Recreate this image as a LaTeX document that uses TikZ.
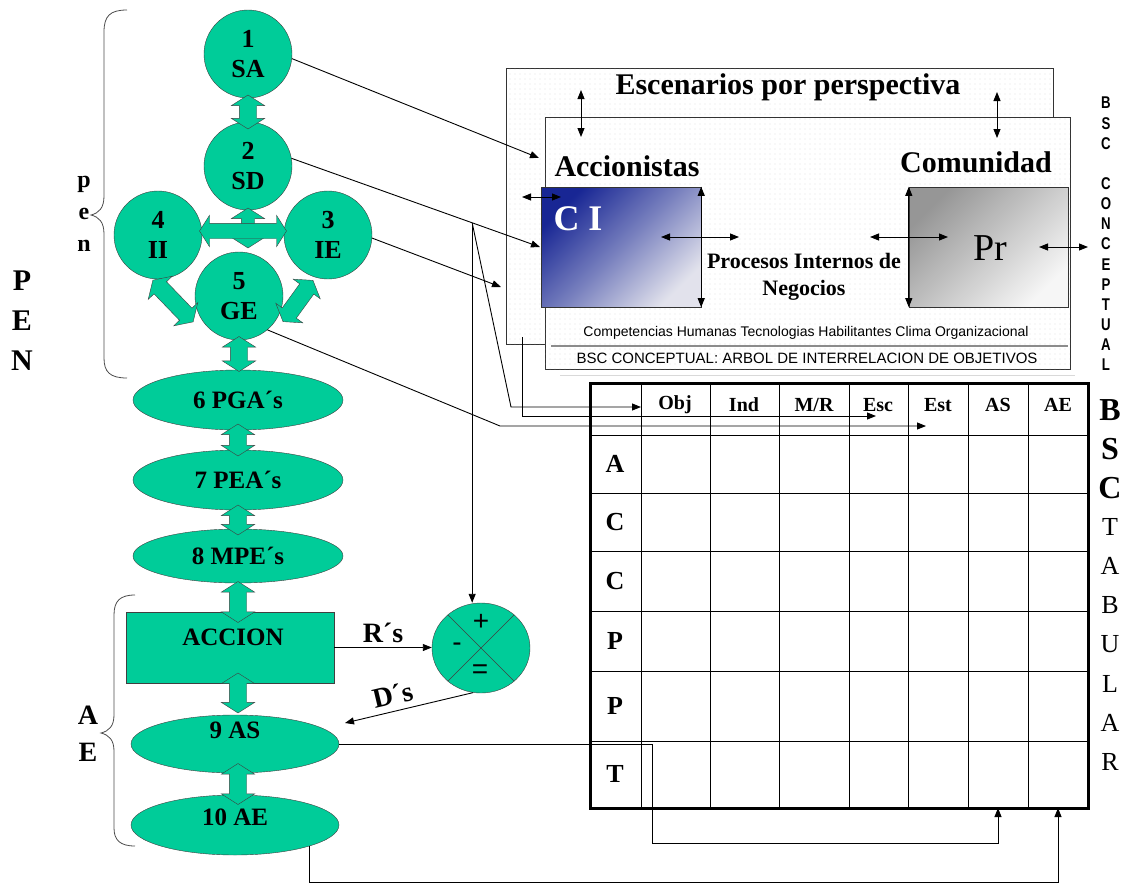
\documentclass[tikz,border=0pt]{standalone}
\usepackage{fontspec}
\setmainfont{Liberation Serif}
\setsansfont{Liberation Sans}
\usetikzlibrary{shapes.geometric,shapes.arrows,arrows.meta,patterns.meta,calc}

\definecolor{verde}{RGB}{0,204,153}
\definecolor{azulci}{RGB}{24,38,148}
\definecolor{medioci}{RGB}{120,128,190}
\definecolor{claroci}{RGB}{226,226,236}
\definecolor{grispr}{RGB}{150,150,150}
\definecolor{claropr}{RGB}{246,246,246}
\newcommand{\tam}[2]{\fontsize{#1}{#2}\selectfont}

\tikzset{
  circulo/.style={circle,draw=black!75,fill=verde,minimum size=88pt,inner sep=0pt,align=center,font=\tam{26}{30}\bfseries},
  ovalo/.style={ellipse,draw=black!75,fill=verde,minimum width=210pt,minimum height=60pt,inner sep=0pt,font=\tam{25}{30}\bfseries},
  bloque/.style={double arrow,draw=black!75,fill=verde,inner xsep=0pt,inner ysep=8.5pt,double arrow head extend=8pt,double arrow tip angle=115,minimum height=#1pt},
  caja/.style={draw=black!80,fill=white,postaction={pattern={Dots[radius=0.4pt,distance=5pt]},pattern color=black!30},inner sep=0pt},
  flecha/.style={line width=0.9pt,-{Triangle[length=9pt,width=7pt]}},
  doble/.style={line width=0.9pt,{Triangle[length=9pt,width=7pt]}-{Triangle[length=9pt,width=7pt]}},
  llave/.style={line width=0.8pt,black!70},
  rotulo/.style={inner sep=0pt,font=\tam{25}{30}\bfseries},
}

\begin{document}
\begin{tikzpicture}[x=1pt,y=-1pt]
\useasboundingbox (0,0) rectangle (1125,884);

%% BSC conceptual
\node[caja,minimum width=547pt,minimum height=276pt] (escen) at (779.5,206) {};
\draw[black!15,line width=1pt] (560,375) -- (1075,375);
\node[caja,minimum width=525pt,minimum height=252pt] (bscc) at (807.5,243) {};
\node[rotulo,font=\tam{30}{32}\bfseries] (tesc) at (788,87) {Escenarios por perspectiva};
\node[rotulo,font=\tam{30}{32}\bfseries] (tacc) at (627,166) {Accionistas};
\node[rotulo,font=\tam{30}{32}\bfseries] (tcom) at (976,162) {Comunidad};
\node[draw=black!80,top color=azulci,bottom color=claroci,middle color=medioci,shading angle=45,minimum width=160pt,minimum height=120pt] (ci) at (621,247) {};
\node[rotulo,font=\tam{36}{40}\bfseries,text=white] (tci) at (578,219) {C I};
\node[draw=black!80,top color=grispr,bottom color=claropr,shading angle=45,minimum width=159pt,minimum height=120pt] (pr) at (988.5,247) {};
\node[rotulo,font=\tam{38}{40}] (tpr) at (990,248) {Pr};
\node[rotulo,align=center,font=\tam{22}{27}\bfseries] (tproc) at (804,277) {Procesos Internos de\\Negocios};
\node[rotulo,font=\sffamily\tam{14}{16}] (tcomp) at (806,333) {Competencias Humanas Tecnologias Habilitantes Clima Organizacional};
\draw[black!45,line width=2pt] (551,346) -- (1068,346);
\node[rotulo,font=\sffamily\tam{15}{17}] (tbsc) at (807,358) {BSC CONCEPTUAL: ARBOL DE INTERRELACION DE OBJETIVOS};
%% flechas dobles internas
\draw[doble] (581,90) -- (581,137);
\draw[doble] (997,92) -- (997,138);
\draw[doble] (522,197) -- (561,197);
\draw[doble] (ci.north east) -- (ci.south east);
\draw[doble] (661,237) -- (739,237);
\draw[doble] (870,237) -- (948,237);
\draw[doble] (pr.north west) -- (pr.south west);
\draw[doble] (1039,247) -- (1088,247);
\foreach \l/\k in {B/0,S/1,C/2,C/4,O/5,N/6,C/7,E/8,P/9,T/10,U/11,A/12,L/13}
  \node[rotulo,font=\sffamily\bfseries\tam{17}{17}] (bsc\k) at (1106,103+20.15*\k) {\scalebox{0.78}[1]{\l}};

%% Tabla
\foreach \x in {641,710,779,849,908,968,1028}
  \draw[line width=1pt] (\x,383) -- (\x,808);
\foreach \y in {435,493,551,611,671,741}
  \draw[line width=1pt] (590,\y) -- (1088,\y);
\node[draw,line width=3pt,minimum width=498pt,minimum height=425pt,inner sep=0pt] (tabla) at (839,595.5) {};
\foreach \x/\t [count=\i] in {675/Obj,744/Ind,814/{M/R},878/Esc,938/Est,998/AS,1058/AE}
  \node[rotulo,font=\tam{20}{20}\bfseries] (col\i) at (\x,405) {\t};
\foreach \y/\t [count=\i] in {464/A,522/C,581/C,641/P,706/P,774/T}
  \node[rotulo,font=\tam{26}{28}\bfseries] (fila\i) at (615,\y) {\t};
\foreach \t [count=\i from 0] in {B,S,C}
  \node[rotulo,font=\tam{32}{32}\bfseries] (der\i) at (1110,410+39.1*\i) {\t};
\foreach \t [count=\i from 3] in {T,A,B,U,L,A,R}
  \node[rotulo,font=\tam{26}{26}] (der\i) at (1110,410+39.1*\i) {\t};

%% PEN
\node[circulo] (sa) at (248,54) {1\\SA};
\node[circulo] (sd) at (248,166) {2\\SD};
\node[circulo] (ii) at (158,235) {4\\II};
\node[circulo] (ie) at (328,235) {3\\IE};
\node[circulo] (ge) at (239,296) {5\\GE};
\node[ovalo] (pga) at (238,400) {6 PGA´s};
\node[ovalo] (pea) at (238,480) {7 PEA´s};
\node[ovalo,minimum height=54pt] (mpe) at (238,556) {8 MPE´s};
%% AE
\node[draw=black!75,fill=verde,minimum width=208pt,minimum height=71pt] (accion) at (230,647.5) {};
\node[rotulo] (tacc2) at (233,637) {ACCION};
\node[ovalo,minimum width=208pt,minimum height=58pt] (as) at (235,744) {};
\node[rotulo] (tas) at (235,730) {9 AS};
\node[ovalo,minimum width=208pt] (ae) at (235,825) {};
\node[rotulo] (tae) at (235,817) {10 AE};
\node[ellipse,draw=black!75,fill=verde,minimum width=98pt,minimum height=90pt,inner sep=0pt] (opr) at (481,648) {};
\draw[black!75] (opr.135) -- (opr.-45);
\draw[black!75] (opr.45) -- (opr.-135);
\node[rotulo,font=\sffamily\tam{28}{28}] (mas) at (481,622) {+};
\node[rotulo,font=\sffamily\tam{28}{28}] (menos) at (457,647) {-};
\node[rotulo,font=\sffamily\tam{28}{28}] (igual) at (480,672) {=};

%% flechas de bloque
\node[bloque=34,rotate=90] (bl12) at (248,112) {};
\node[bloque=40,rotate=90,inner ysep=6.5pt,double arrow head extend=10pt] (bl25) at (248,228) {};
\node[bloque=87,inner ysep=7.5pt] (bl43) at (243,231) {};
\node[bloque=58,rotate=-46] (bl45) at (173,301) {};
\node[bloque=51,rotate=54] (bl35) at (298,301) {};
\node[bloque=35,rotate=90] (bl56) at (239,354) {};
\node[bloque=32,rotate=90] (bl67) at (238,440) {};
\node[bloque=30,rotate=90] (bl78) at (238,520) {};
\node[bloque=41,rotate=90] (bl8a) at (238,602) {};
\node[bloque=40,rotate=90] (bla9) at (238,693) {};
\node[bloque=41,rotate=90] (bl910) at (238,784) {};

%% llaves
\draw[llave] (127,10) .. controls (110,10) and (104,16) .. (104,32) -- (104,196)
  .. controls (104,208) and (99,213) .. (91,215) .. controls (99,217) and (104,222) .. (104,234)
  -- (104,358) .. controls (104,372) and (110,378) .. (127,378);
\draw[llave] (135,595) .. controls (120,595) and (114,601) .. (114,615) -- (114,715)
  .. controls (114,726) and (109,731) .. (101,733) .. controls (109,735) and (114,740) .. (114,751)
  -- (114,828) .. controls (114,840) and (120,846) .. (135,846);
\foreach \t/\y in {p/187,e/219,n/251}
  \node[rotulo,font=\tam{24}{24}\bfseries,anchor=base] (pen\t) at (84,\y) {\t};
\foreach \t/\y in {P/290,E/330,N/370}
  \node[rotulo,font=\tam{30}{30}\bfseries,anchor=base] (PEN\t) at (22,\y) {\t};
\node[rotulo,font=\tam{28}{28}\bfseries] (ltA) at (88,715) {A};
\node[rotulo,font=\tam{28}{28}\bfseries] (ltE) at (88,752) {E};

%% conectores
\coordinate (p1) at (539,158);
\coordinate (p2) at (540,247);
\coordinate (p3) at (501,287);
\coordinate (p4) at (500,426);
\coordinate (p5) at (511,407);
\coordinate (p6) at (522,337);
\coordinate (p7) at (522,416);
\coordinate (p8) at (876,416);
\coordinate (p9) at (926,426);
\coordinate (p10) at (641,407);
\coordinate (q1) at (345,723);
\coordinate (r1) at (652,843);
\coordinate (r2) at (998,808);
\coordinate (r3) at (1058,882);
\coordinate (r4) at (1058,808);
\coordinate (j1) at ($(sd.10)!0.727!(p2)$);
\draw[flecha] (sa.-6) -- (p1);
\draw[flecha] (sd.10) -- (p2);
\draw[flecha] (ie.-4) -- (p3);
\draw[flecha] (ge.-50) -- (p4) -- (p9);
\draw[flecha] (j1) -- (j1 |- opr.north);
\draw[flecha] (j1) -- (p5) -- (p10);
\draw[flecha] (p6) -- (p7) -- (p8);
\draw[flecha] (accion.east) -- node[rotulo,above=4pt,font=\tam{28}{30}\bfseries] (trs) {R´s} (accion.east -| opr.west);
\draw[flecha] (opr.-100) -- node[rotulo,pos=0.6,above=6pt,sloped,font=\tam{28}{30}\bfseries] (tds) {D´s} (q1);
\draw[flecha] (as.east) -| (r1) -| (r2);
\draw[flecha] (ae.-16) |- (r3) -- (r4);
\end{tikzpicture}
\end{document}
